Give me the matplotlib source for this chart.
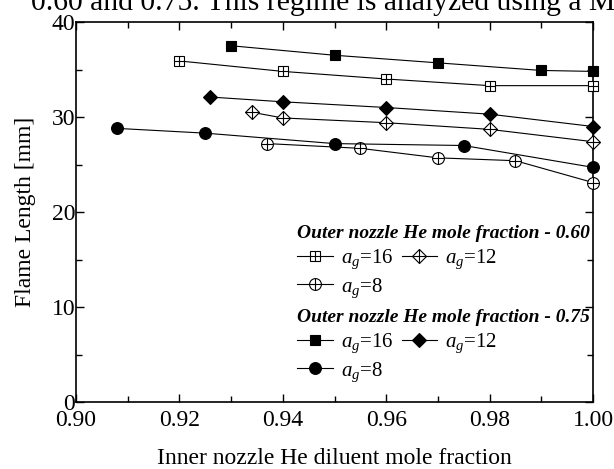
import matplotlib
matplotlib.use('Agg')
import matplotlib.pyplot as plt
from matplotlib.legend_handler import HandlerTuple
from matplotlib.ticker import MultipleLocator, FormatStrFormatter
#
plt.rcParams['font.family'] = ['Liberation Serif', 'DejaVu Serif']
plt.rcParams['mathtext.fontset'] = 'custom'
plt.rcParams['mathtext.rm'] = 'Liberation Serif'
plt.rcParams['mathtext.it'] = 'Liberation Serif:italic'
#
# outer nozzle He mole fraction 0.60 (open markers with a cross)
x60_16 = [0.92, 0.94, 0.96, 0.98, 1.00]
y60_16 = [35.9, 34.8, 34.0, 33.3, 33.3]
x60_12 = [0.934, 0.94, 0.96, 0.98, 1.00]
y60_12 = [30.5, 29.9, 29.4, 28.7, 27.4]
x60_8 = [0.937, 0.955, 0.97, 0.985, 1.00]
y60_8 = [27.2, 26.7, 25.7, 25.4, 23.1]
# outer nozzle He mole fraction 0.75 (filled markers)
x75_16 = [0.93, 0.95, 0.97, 0.99, 1.00]
y75_16 = [37.5, 36.5, 35.7, 34.9, 34.8]
x75_12 = [0.926, 0.94, 0.96, 0.98, 1.00]
y75_12 = [32.1, 31.6, 31.0, 30.3, 29.0]
x75_8 = [0.908, 0.925, 0.95, 0.975, 1.00]
y75_8 = [28.8, 28.3, 27.2, 27.0, 24.7]
#
labels = [r'$a_g$=16', r'$a_g$=12', r'$a_g$=8']
#
fig = plt.figure(figsize=(6.14, 4.69), dpi=100)
ax = fig.add_axes([76/614, 1-402/469, 517/614, 380/469])
#
lw = 0.8
mew = 0.8
#
def open_series(x, y, marker, ms, pms):
	l1, = ax.plot(x, y, '-', color='black', lw=lw, marker=marker, ms=ms,
				  mfc='white', mec='black', mew=mew, clip_on=False, zorder=3)
	l2, = ax.plot(x, y, ls='none', marker='+', ms=pms, mec='black',
				  mew=mew, clip_on=False, zorder=4)
	return (l1, l2)
#
def filled_series(x, y, marker, ms):
	l1, = ax.plot(x, y, '-', color='black', lw=lw, marker=marker, ms=ms,
				  mfc='black', mec='black', mew=mew, clip_on=False, zorder=3)
	return l1
#
h60 = [open_series(x60_16, y60_16, 's', 7.2, 7.2),
	   open_series(x60_12, y60_12, 'D', 7.2, 10.2),
	   open_series(x60_8, y60_8, 'o', 8.5, 8.5)]
h75 = [filled_series(x75_16, y75_16, 's', 7.5),
	   filled_series(x75_12, y75_12, 'D', 7.5),
	   filled_series(x75_8, y75_8, 'o', 8.5)]
#
ax.set_xlim(0.90, 1.00)
ax.set_ylim(0, 40)
ax.xaxis.set_major_locator(MultipleLocator(0.02))
ax.xaxis.set_minor_locator(MultipleLocator(0.01))
ax.yaxis.set_major_locator(MultipleLocator(10))
ax.yaxis.set_minor_locator(MultipleLocator(5))
ax.xaxis.set_major_formatter(FormatStrFormatter('%.2f'))
ax.tick_params(which='both', direction='in', top=True, right=True, width=1, labelsize=17)
ax.tick_params(which='major', length=6)
ax.tick_params(which='minor', length=4)
ax.tick_params(axis='x', pad=6)
ax.tick_params(axis='y', pad=0.5)
for s in ax.spines.values():
	s.set_linewidth(1.2)
#
ax.set_xlabel('Inner nozzle He diluent mole fraction', fontsize=17, labelpad=12)
ax.set_ylabel('Flame Length [mm]', fontsize=17, labelpad=11)
#
title_font = {'weight': 'bold', 'style': 'italic', 'size': 14}
common = dict(ncol=2, frameon=False, fontsize=15, handlelength=1.7, handletextpad=0.4,
			  columnspacing=0.4, labelspacing=0.26, borderpad=0, borderaxespad=0,
			  loc='upper left', alignment='left', title_fontproperties=title_font,
			  handler_map={tuple: HandlerTuple(ndivide=1)})
# column-major fill: 16 and 12 in the first row, 8 in the second
order = [0, 2, 1]
leg1 = ax.legend([h60[i] for i in order], [labels[i] for i in order],
				 title='Outer nozzle He mole fraction - 0.60',
				 bbox_to_anchor=(0.428, 0.466), **common)
ax.add_artist(leg1)
leg2 = ax.legend([h75[i] for i in order], [labels[i] for i in order],
				 title='Outer nozzle He mole fraction - 0.75',
				 bbox_to_anchor=(0.428, 0.245), **common)
#
# cropped line of the page text above the figure
fig.text(31/614, 1-10/469, '0.60 and 0.75. This regime is analyzed using a M',
		 fontsize=21.3, va='baseline', ha='left')
#
fig.savefig('out.png', dpi=100)
